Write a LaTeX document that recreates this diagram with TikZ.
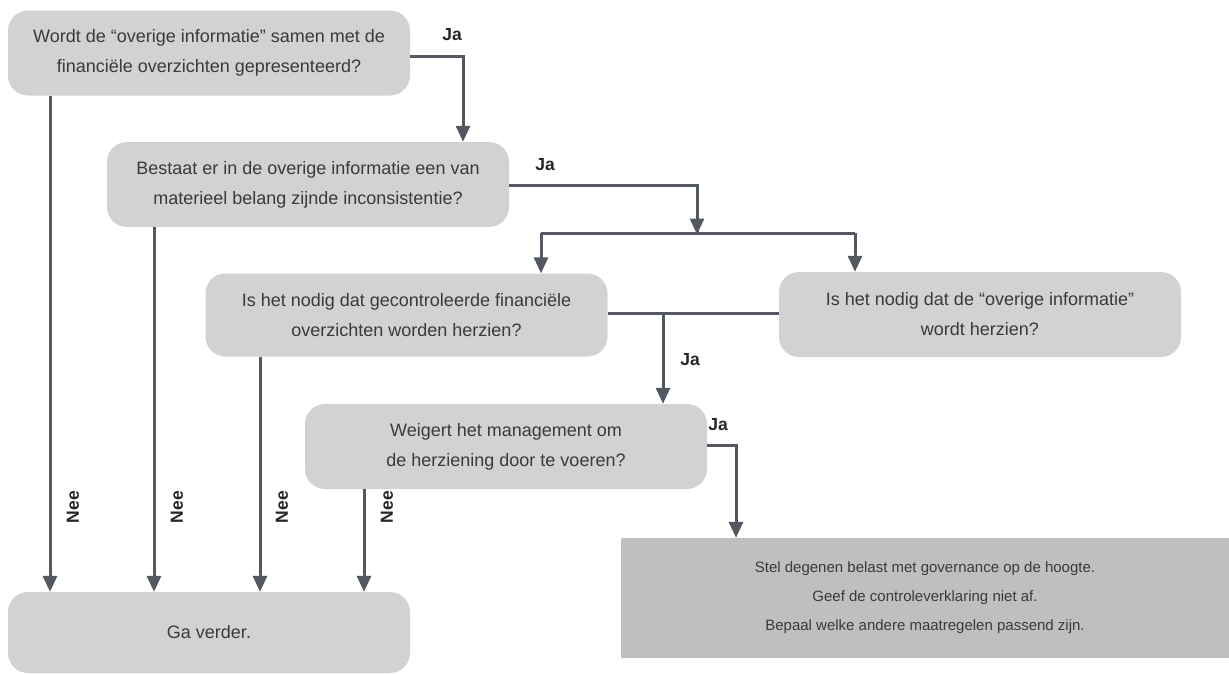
\documentclass[tikz,border=0pt]{standalone}
\usepackage{fontspec}
\setmainfont{Liberation Sans}
\usetikzlibrary{arrows.meta,positioning,calc}
\definecolor{boxgrey}{HTML}{D3D2D3}
\definecolor{actiongrey}{HTML}{BFBFC1}
\definecolor{linegrey}{HTML}{545861}
\definecolor{textgrey}{HTML}{3A3A3A}
\begin{document}
\begin{tikzpicture}[x=1pt,y=-1pt,
  question/.style={fill=boxgrey, rounded corners=20pt, minimum width=402pt,
    minimum height=85pt, align=center, text=textgrey,
    font=\fontsize{18}{30}\selectfont, inner sep=0pt},
  action/.style={fill=actiongrey, minimum width=608pt, minimum height=120pt,
    align=center, text=textgrey, font=\fontsize{15}{29}\selectfont, inner sep=0pt},
  flow/.style={draw=linegrey, line width=3pt,
    -{Triangle[width=14pt,length=16pt]}},
  link/.style={draw=linegrey, line width=3pt},
  yes/.style={font=\bfseries\fontsize{17.5}{20}\selectfont, text=black!85},
  no/.style={font=\bfseries\fontsize{17.5}{20}\selectfont, text=black!85, rotate=90}]
\useasboundingbox (0,0) rectangle (1229,673);

% question boxes
\node[question] (q1) at (209,53)
  {Wordt de “overige informatie” samen met de\\financiële overzichten gepresenteerd?};
\node[question] (q2) at (308,184.5)
  {Bestaat er in de overige informatie een van\\materieel belang zijnde inconsistentie?};
\node[question, minimum height=83pt] (q3) at (406.5,315)
  {Is het nodig dat gecontroleerde financiële\\overzichten worden herzien?};
\node[question] (q4) at (980,314.5)
  {Is het nodig dat de “overige informatie”\\wordt herzien?};
\node[question] (q5) at (506,446.5)
  {Weigert het management om\\de herziening door te voeren?};
\node[question, minimum height=81pt] (q6) at (209,632.5) {Ga verder.};
\node[action] (act) at (925,598)
  {Stel degenen belast met governance op de hoogte.\\Geef de controleverklaring niet af.\\Bepaal welke andere maatregelen passend zijn.};

% "Ja" branches
\coordinate (j1) at (463,56);
\draw[flow] (q1.east |- j1) -| (q2.north -| j1);
\node[yes] at (452,35) {Ja};

\coordinate (j2) at (697,185);
\coordinate (split) at (697,233);
\draw[link] (q2.east |- j2) -| (split);
\draw[flow] (j2) -- ($(split)+(0,1.5)$);
\coordinate (sl) at (541,233);
\coordinate (sr) at (855,233);
\draw[link] (sl) -- (sr);
\draw[flow] (sl) -- (q3.north -| sl);
\draw[flow] (sr) -- (q4.north -| sr);
\node[yes] at (545,165) {Ja};

\coordinate (j3) at (663,313);
\draw[link] (q3.east |- j3) -- (q4.west |- j3);
\draw[flow] (j3) -- (q5.north -| j3);
\node[yes] at (690,360) {Ja};

\coordinate (j4) at (736,445);
\draw[flow] (q5.east |- j4) -| (act.north -| j4);
\node[yes] at (718,425) {Ja};

% "Nee" branches into "Ga verder."
\foreach \src/\xx/\lx in {q1/50/73, q2/154/177, q3/260/282, q5/364/387}{
  \coordinate (nx) at (\xx,0);
  \draw[flow] (\src.south -| nx) -- (q6.north -| nx);
  \node[no] at (\lx,507) {Nee};
}
\end{tikzpicture}
\end{document}
